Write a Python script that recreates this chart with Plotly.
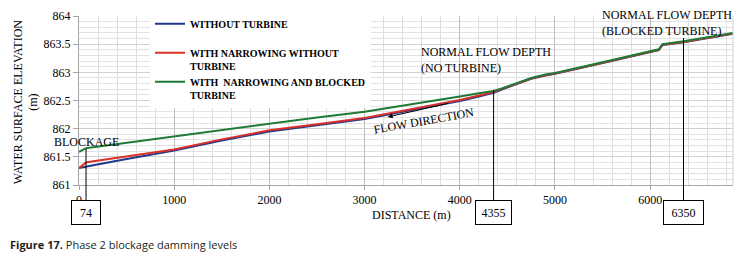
import plotly.graph_objects as go

# ---- data ----
distance = [0, 74, 150, 500, 1000, 1500, 2000, 2500, 3000, 3500, 4000, 4200, 4355, 4450, 4600, 4750, 4900, 5000, 5500, 6000, 6090, 6130, 6350, 6870]
without_turbine = [861.30, 861.32, 861.35, 861.46, 861.61, 861.79, 861.95, 862.06, 862.17, 862.33, 862.49, 862.57, 862.635, 862.70, 862.795, 862.885, 862.945, 862.975, 863.165, 863.355, 863.395, 863.485, 863.535, 863.685]
narrowing_without_turbine = [861.30, 861.40, 861.42, 861.51, 861.63, 861.81, 861.97, 862.08, 862.19, 862.35, 862.51, 862.59, 862.65, 862.71, 862.80, 862.89, 862.95, 862.98, 863.17, 863.36, 863.40, 863.49, 863.54, 863.69]
narrowing_blocked_turbine = [861.59, 861.655, 861.67, 861.75, 861.86, 861.98, 862.09, 862.20, 862.30, 862.43, 862.57, 862.63, 862.67, 862.72, 862.81, 862.90, 862.96, 862.99, 863.18, 863.37, 863.41, 863.50, 863.55, 863.70]

series_names = ["WITHOUT TURBINE<br>\u00a0", "WITH NARROWING WITHOUT<br>TURBINE", "WITH  NARROWING AND BLOCKED<br>TURBINE"]
series_colors = ["#1f3a8c", "#d8302a", "#1f7a35"]

marker_distances = [74, 4355, 6350]
x_ticks = [0, 1000, 2000, 3000, 4000, 5000, 6000]
y_ticks = [861, 861.5, 862, 862.5, 863, 863.5, 864]

SERIF = "Liberation Serif"

fig = go.Figure()
for name, ys, col in zip(series_names, [without_turbine, narrowing_without_turbine, narrowing_blocked_turbine], series_colors):
    fig.add_trace(go.Scatter(x=distance, y=ys, mode="lines", name=name,
                             line=dict(color=col, width=2)))

# the page body has an 8px margin, so the figure is sized/offset to compensate
fig.update_layout(
    width=742, height=251,
    margin=dict(l=71, r=17, t=8, b=74, autoexpand=False),
    paper_bgcolor="white", plot_bgcolor="white",
    font=dict(family=SERIF, size=12, color="#000"),
    legend=dict(x=0.1086, y=1.031, xanchor="left", yanchor="top",
                bgcolor="white", borderwidth=0, valign="top",
                font=dict(family=SERIF, size=10, color="#000", weight="bold"),
                tracegroupgap=0),
    showlegend=True,
)

fig.update_xaxes(range=[0, 6870], tickvals=x_ticks, tickformat="d",
                 showgrid=True, gridcolor="#bdbdbd", gridwidth=1,
                 minor=dict(dtick=200, showgrid=True, gridcolor="#dedede", gridwidth=1),
                 showline=True, linecolor="#a6a6a6", linewidth=1,
                 ticks="outside", ticklen=4, tickcolor="#a6a6a6",
                 zeroline=False, tickfont=dict(family=SERIF, size=12))
fig.update_yaxes(range=[861, 864], tickvals=y_ticks,
                 showgrid=True, gridcolor="#d0d0d0", gridwidth=1,
                 minor=dict(dtick=0.1, showgrid=True, gridcolor="#e2e2e2", gridwidth=1),
                 showline=True, linecolor="#a6a6a6", linewidth=1,
                 ticks="outside", ticklen=5, tickcolor="#a6a6a6",
                 zeroline=False, tickfont=dict(family=SERIF, size=12))

# right border
fig.add_shape(type="line", xref="paper", yref="paper", x0=1, x1=1, y0=0, y1=1,
              line=dict(color="#d0d0d0", width=1))

# axis titles
fig.add_annotation(text="WATER SURFACE ELEVATION<br>(m)", xref="paper", yref="paper",
                   x=-0.081, y=0.49, textangle=-90, showarrow=False,
                   xanchor="center", yanchor="middle", font=dict(size=12))
fig.add_annotation(text="DISTANCE (m)", xref="paper", yref="paper",
                   x=0.508, y=-0.1775, showarrow=False,
                   xanchor="center", yanchor="middle", font=dict(size=12))

# text annotations
fig.add_annotation(text="BLOCKAGE", xref="paper", yref="y", x=-0.0413, y=861.76,
                   showarrow=False, xanchor="left", yanchor="middle", font=dict(size=12))
fig.add_annotation(text="NORMAL FLOW DEPTH<br>(NO TURBINE)", xref="x", yref="y",
                   x=3568, y=863.22, showarrow=False, xanchor="left", yanchor="middle",
                   align="left", font=dict(size=12))
fig.add_annotation(text="NORMAL FLOW DEPTH<br>(BLOCKED TURBINE)", xref="x", yref="y",
                   x=5478, y=863.87, showarrow=False, xanchor="left", yanchor="middle",
                   align="left", font=dict(size=12))
fig.add_annotation(text="FLOW DIRECTION", xref="x", yref="y", x=3620, y=862.14,
                   textangle=-10, showarrow=False, xanchor="center", yanchor="middle",
                   font=dict(size=12))
fig.add_annotation(text="", xref="x", yref="y", axref="x", ayref="y",
                   x=3242, y=862.207, ax=3893, ay=862.455,
                   showarrow=True, arrowhead=2, arrowsize=1, arrowwidth=1, arrowcolor="#000")

# marker lines and boxes
line_tops = [0.215, 0.562, 0.87]
box_widths = [24, 31, 35]
for d, top, w in zip(marker_distances, line_tops, box_widths):
    fig.add_shape(type="line", xref="x", yref="paper", x0=d, x1=d, y0=-0.09, y1=top,
                  line=dict(color="#000", width=1))
    fig.add_annotation(text=str(d), xref="x", yref="paper", x=d, y=-0.162,
                       showarrow=False, xanchor="center", yanchor="middle",
                       bordercolor="#000", borderwidth=1, borderpad=2, bgcolor="white",
                       width=w, height=19, font=dict(size=12))

# caption
fig.add_annotation(text="<b>Figure 17.</b> Phase 2 blockage damming levels",
                   xref="paper", yref="paper", x=-0.1086, y=-0.355,
                   showarrow=False, xanchor="left", yanchor="middle",
                   font=dict(family="Open Sans", size=11, color="#231f20"))

fig.write_html("out.html")
